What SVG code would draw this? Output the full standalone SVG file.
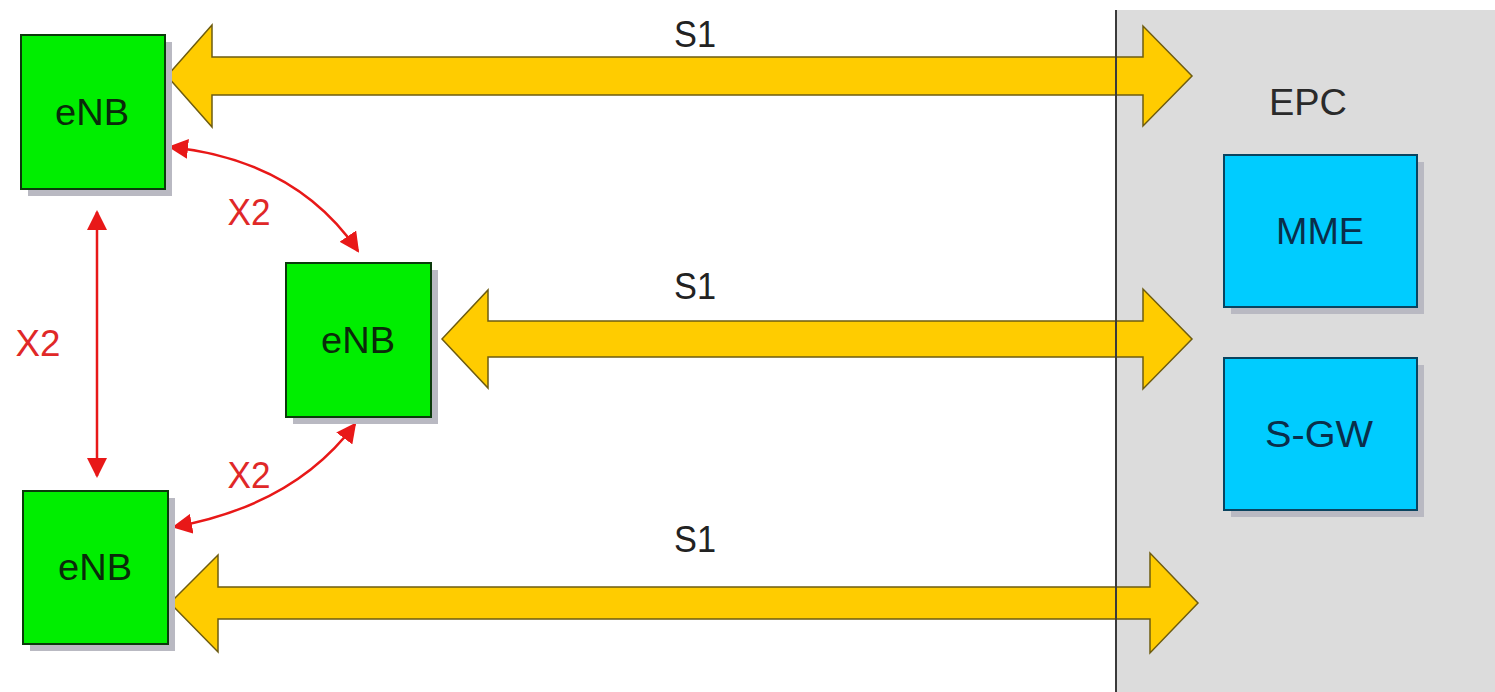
<svg xmlns="http://www.w3.org/2000/svg" width="1495" height="692" viewBox="0 0 1495 692">
  <style>
    text { font-family: "Liberation Sans", Arial, sans-serif; font-size: 36px; text-anchor: middle; }
    .shadow { fill: #b9b9c2; }
    .enb { fill: #00ee00; stroke: #0b3a0b; stroke-width: 2; }
    .enb-label { fill: #0a2a0a; }
    .epc-node { fill: #00ccff; stroke: #0a4460; stroke-width: 2; }
    .epc-label { fill: #0a2e4a; }
    .s1 { fill: #ffcc00; stroke: #6e5c10; stroke-width: 1.5; stroke-linejoin: miter; }
    .s1-label { fill: #222; }
    .x2 { fill: none; stroke: #e81818; stroke-width: 2.5; marker-start: url(#redHead); marker-end: url(#redHead); }
    .x2-label { fill: #e02828; }
  </style>
  <defs>
    <marker id="redHead" viewBox="0 0 10 10" refX="9" refY="5" markerWidth="8" markerHeight="8" markerUnits="strokeWidth" orient="auto-start-reverse">
      <path d="M0,0 L10,5 L0,10 Z" fill="#e81818"/>
    </marker>
  </defs>

  <rect width="1495" height="692" fill="#ffffff"/>

  <!-- EPC area -->
  <g id="epc">
    <rect x="1116" y="10" width="382" height="690" fill="#dcdcdc"/>
    <text x="1308" y="115" fill="#2a2a2a" textLength="78" lengthAdjust="spacingAndGlyphs">EPC</text>
  </g>

  <!-- S1 and X2 interfaces -->
  <g id="connectors">
    <polygon class="s1" points="167,76 212,25 212,57 1143,57 1143,26 1192,76 1143,126 1143,95 212,95 212,127"/>
    <polygon class="s1" points="442,339 488,290 488,321 1143,321 1143,289 1192,339 1143,389 1143,357 488,357 488,388"/>
    <polygon class="s1" points="170,603 218,555 218,587 1150,587 1150,553 1198,603 1150,653 1150,619 218,619 218,652"/>
    <text class="s1-label" x="695" y="47" textLength="42" lengthAdjust="spacingAndGlyphs">S1</text>
    <text class="s1-label" x="695" y="299" textLength="42" lengthAdjust="spacingAndGlyphs">S1</text>
    <text class="s1-label" x="695" y="552" textLength="42" lengthAdjust="spacingAndGlyphs">S1</text>

    <path class="x2" d="M97,212 L97,476"/>
    <path class="x2" d="M170,147 Q296,160 358,251"/>
    <path class="x2" d="M174,527 Q295,505 355,424"/>
    <text class="x2-label" x="249" y="225" textLength="43" lengthAdjust="spacingAndGlyphs">X2</text>
    <text class="x2-label" x="38" y="356" textLength="45" lengthAdjust="spacingAndGlyphs">X2</text>
    <text class="x2-label" x="249" y="488" textLength="43" lengthAdjust="spacingAndGlyphs">X2</text>
  </g>

  <!-- EPC boundary line drawn over the S1 arrow heads -->
  <line x1="1116" y1="10" x2="1116" y2="692" stroke="#3a3a3a" stroke-width="2"/>

  <g id="enb-top">
    <rect class="shadow" x="28" y="42" width="144" height="154"/>
    <rect class="enb" x="21" y="35" width="144" height="154"/>
    <text class="enb-label" x="92" y="125" textLength="74" lengthAdjust="spacingAndGlyphs">eNB</text>
  </g>

  <g id="enb-middle">
    <rect class="shadow" x="293" y="270" width="145" height="154"/>
    <rect class="enb" x="286" y="263" width="145" height="154"/>
    <text class="enb-label" x="358" y="353" textLength="74" lengthAdjust="spacingAndGlyphs">eNB</text>
  </g>

  <g id="enb-bottom">
    <rect class="shadow" x="30" y="498" width="145" height="153"/>
    <rect class="enb" x="23" y="491" width="145" height="153"/>
    <text class="enb-label" x="95" y="580" textLength="74" lengthAdjust="spacingAndGlyphs">eNB</text>
  </g>

  <g id="mme">
    <rect class="shadow" x="1231" y="162" width="193" height="152"/>
    <rect class="epc-node" x="1224" y="155" width="193" height="152"/>
    <text class="epc-label" x="1320" y="244" textLength="88" lengthAdjust="spacingAndGlyphs">MME</text>
  </g>

  <g id="sgw">
    <rect class="shadow" x="1231" y="365" width="193" height="152"/>
    <rect class="epc-node" x="1224" y="358" width="193" height="152"/>
    <text class="epc-label" x="1319" y="447" textLength="108" lengthAdjust="spacingAndGlyphs">S-GW</text>
  </g>
</svg>
